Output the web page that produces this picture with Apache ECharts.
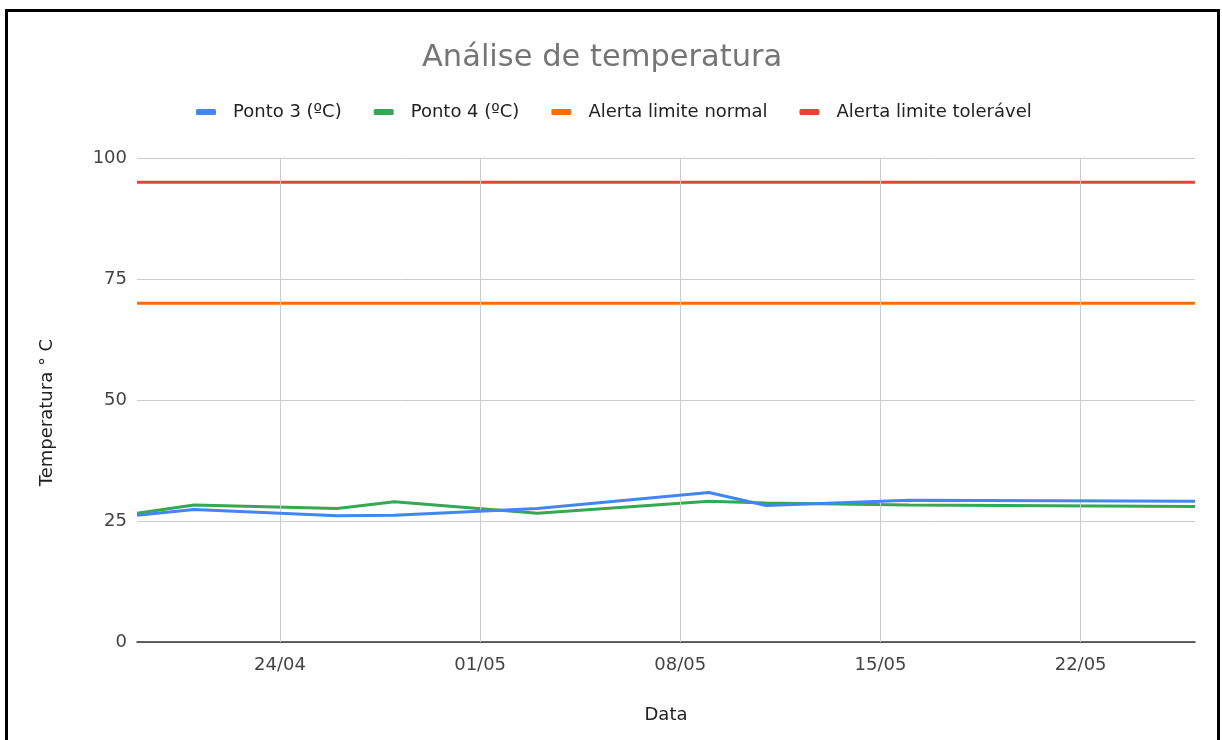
<!DOCTYPE html>
<html>
<head>
<meta charset="utf-8">
<script src="https://cdn.jsdelivr.net/npm/echarts@6/dist/echarts.min.js"></script>
<style>
html,body{margin:0;padding:0;background:#fff;overflow:hidden;}
#chart{position:absolute;left:0;top:0;width:1222px;height:740px;}
#frame{position:absolute;left:5px;top:9px;width:1209px;height:800px;border:3px solid #000;border-bottom:none;pointer-events:none;}
</style>
</head>
<body>
<div id="chart"></div>
<div id="frame"></div>
<script>
const dates = ['2021-04-19','2021-04-21','2021-04-26','2021-04-28','2021-05-03','2021-05-09','2021-05-11','2021-05-16','2021-05-26'];
const ponto3 = [26.2, 27.4, 26.1, 26.2, 27.6, 30.9, 28.2, 29.3, 29.1];
const ponto4 = [26.6, 28.3, 27.6, 29.0, 26.6, 29.1, 28.7, 28.3, 28.0];
const alertaNormal = [70, 70, 70, 70, 70, 70, 70, 70, 70];
const alertaToleravel = [95, 95, 95, 95, 95, 95, 95, 95, 95];
const seriesNames = ['Ponto 3 (ºC)', 'Ponto 4 (ºC)', 'Alerta limite normal', 'Alerta limite tolerável'];
const tickDates = ['2021-04-24','2021-05-01','2021-05-08','2021-05-15','2021-05-22'];
const tickLabels = ['24/04','01/05','08/05','15/05','22/05'];
const yTicks = [0, 25, 50, 75, 100];

const ts = d => { const p = d.split('-').map(Number); return Date.UTC(p[0], p[1]-1, p[2]); };
const tickTs = tickDates.map(ts);
const pairs = arr => dates.map((d, i) => [ts(d), arr[i]]);
const colors = ['#4285F4', '#34A853', '#FF6D01', '#EA4335'];
const font = '"DejaVu Sans", sans-serif';

const chart = echarts.init(document.getElementById('chart'), null, {renderer: 'canvas'});
const mk = (name, arr, color, extra) => Object.assign({
  name, type: 'line', data: pairs(arr), showSymbol: false, symbol: 'none',
  lineStyle: {color, width: 3}, itemStyle: {color}, silent: true, animation: false
}, extra || {});

chart.setOption({
  backgroundColor: '#fff',
  animation: false,
  color: colors,
  title: {
    text: 'Análise de temperatura', left: 417, top: 38,
    textStyle: {fontFamily: font, fontSize: 30.5, fontWeight: 'normal', color: '#757575'}
  },
  legend: {
    top: 98, left: 191, itemWidth: 20, itemHeight: 6, itemGap: 32, icon: 'roundRect',
    data: seriesNames,
    textStyle: {fontFamily: font, fontSize: 18, color: '#222', padding: [0, 0, 0, 12]}
  },
  grid: {left: 137, right: 27, top: 158, bottom: 98, containLabel: false},
  xAxis: {
    type: 'value', min: ts(dates[0]), max: ts(dates[dates.length-1]),
    name: 'Data', nameLocation: 'middle', nameGap: 64,
    nameTextStyle: {fontFamily: font, fontSize: 18, color: '#222'},
    axisLine: {show: true, lineStyle: {color: '#333', width: 1.5}},
    axisTick: {show: false},
    splitLine: {show: false},
    axisLabel: {
      customValues: tickTs, margin: 14, showMinLabel: true, showMaxLabel: true,
      fontFamily: font, fontSize: 18, color: '#444',
      formatter: v => { const i = tickTs.indexOf(v); return i >= 0 ? tickLabels[i] : ''; }
    }
  },
  yAxis: {
    type: 'value', min: yTicks[0], max: yTicks[yTicks.length-1], interval: 25,
    name: 'Temperatura ° C', nameLocation: 'middle', nameGap: 81, nameRotate: 90,
    nameTextStyle: {fontFamily: font, fontSize: 18, color: '#222', padding: [0, 25, 0, 0]},
    axisLine: {show: false}, axisTick: {show: false},
    splitLine: {lineStyle: {color: '#ccc', width: 1}},
    axisLabel: {fontFamily: font, fontSize: 18, color: '#444', margin: 10}
  },
  series: [
    mk('__grid', alertaNormal, 'rgba(0,0,0,0)', {
      lineStyle: {width: 0, color: 'rgba(0,0,0,0)'}, z: 1,
      markLine: {
        silent: true, symbol: 'none', label: {show: false}, animation: false,
        lineStyle: {color: '#ccc', width: 1, type: 'solid'},
        data: tickTs.map(t => ({xAxis: t}))
      }
    }),
    mk(seriesNames[3], alertaToleravel, colors[3], {z: 2}),
    mk(seriesNames[2], alertaNormal, colors[2], {z: 3}),
    mk(seriesNames[1], ponto4, colors[1], {z: 4}),
    mk(seriesNames[0], ponto3, colors[0], {z: 5})
  ]
});
</script>
</body>
</html>
